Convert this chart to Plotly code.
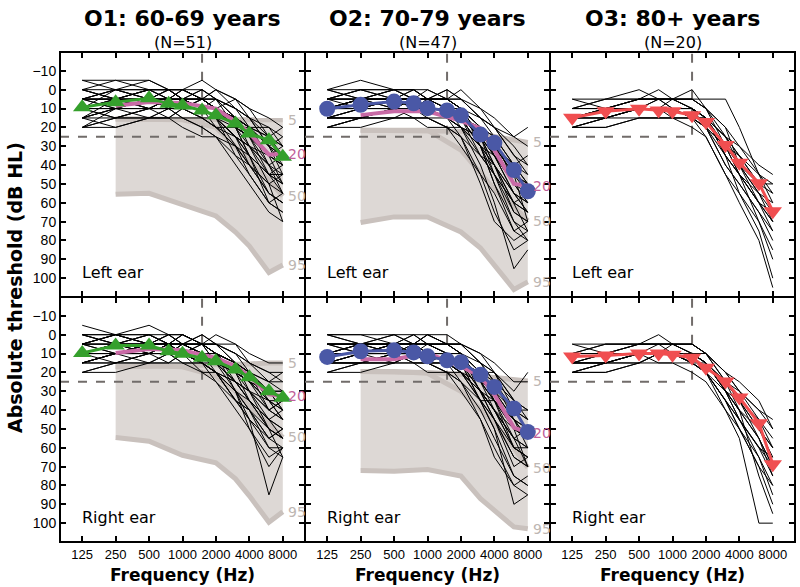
import numpy as np
import plotly.graph_objects as go
from plotly.subplots import make_subplots

FREQS = [125, 250, 500, 750, 1000, 1500, 2000, 3000, 4000, 6000, 8000]
NORM_FREQS = [250, 500, 1000, 2000, 3000, 4000, 6000, 8000]
X_TICKS = [125, 250, 500, 1000, 2000, 4000, 8000]
Y_TICKS = list(range(-10, 101, 10))

GROUPS = ["O1: 60-69 years", "O2: 70-79 years", "O3: 80+ years"]
GROUP_N = ["(N=51)", "(N=47)", "(N=20)"]
EARS = ["Left ear", "Right ear"]
PCT_LABELS = ["5", "20", "50", "95"]

REF_DB = 25      # horizontal dashed reference
REF_HZ = 1500    # vertical dashed reference

# individual audiograms, dB HL at FREQS
o1_left = [
    [5, 0, 5, 5, 5, 10, 10, 15, 20, 30, 35],
    [10, 5, 0, 5, 0, 5, 10, 20, 25, 35, 40],
    [-5, -5, 0, 0, 5, 5, 5, 10, 15, 25, 30],
    [15, 10, 10, 5, 10, 10, 15, 25, 35, 45, 50],
    [0, 5, 0, 5, 5, 0, 5, 15, 20, 30, 25],
    [10, 10, 5, 0, 5, 5, 10, 15, 30, 40, 45],
    [20, 15, 10, 15, 10, 15, 20, 30, 40, 55, 60],
    [5, 5, 10, 5, 10, 5, 10, 20, 25, 40, 35],
    [10, 0, 5, 10, 5, 10, 5, 10, 20, 20, 30],
    [15, 15, 10, 10, 15, 20, 25, 35, 45, 60, 65],
    [5, 10, 5, 0, 0, 5, 0, 5, 10, 15, 20],
    [0, 0, -5, 0, 5, 10, 15, 25, 30, 50, 55],
    [10, 5, 10, 10, 5, 0, 5, 10, 15, 30, 40],
    [15, 10, 5, 5, 10, 15, 20, 20, 25, 35, 30],
    [5, 5, 5, 10, 10, 10, 15, 30, 40, 50, 45],
    [10, 15, 15, 10, 10, 10, 10, 15, 25, 45, 55],
    [0, 5, 5, 0, 0, 0, 5, 15, 20, 25, 35],
    [20, 20, 15, 15, 20, 25, 25, 40, 50, 65, 70],
    [5, 0, 0, 5, 10, 5, 10, 5, 15, 20, 25],
    [10, 10, 10, 5, 0, 5, 10, 15, 20, 40, 50],
    [15, 5, 5, 5, 5, 10, 20, 30, 35, 45, 40],
    [5, 10, 10, 10, 5, 10, 10, 20, 35, 55, 60],
    [-5, 0, 5, 5, 5, 5, 0, 10, 15, 30, 45],
    [10, 15, 10, 10, 10, 15, 15, 25, 30, 35, 50],
    [0, -5, -5, 0, 0, 5, 10, 20, 30, 45, 50],
    [15, 20, 15, 15, 15, 20, 25, 30, 45, 60, 65],
    [5, 5, 0, 0, 5, 5, 10, 20, 25, 35, 40],
    [10, 10, 10, 10, 15, 15, 20, 25, 40, 50, 70],
    [20, 15, 15, 10, 10, 10, 15, 20, 20, 25, 30],
    [5, 5, 5, 5, 0, -5, 0, 5, 10, 25, 20],
    [10, 5, 0, 0, 5, 10, 15, 35, 40, 55, 60],
    [15, 10, 15, 15, 10, 10, 15, 25, 35, 45, 45],
    [0, 5, 10, 5, 5, 5, 5, 15, 20, 35, 40],
    [10, 10, 5, 5, 10, 5, 10, 15, 20, 30, 35],
    [5, 0, 0, 0, 0, 5, 5, 20, 35, 60, 55],
    [20, 10, 10, 10, 5, 10, 15, 25, 30, 40, 55],
]
o1_right = [
    [10, 5, 5, 5, 5, 10, 10, 15, 20, 30, 30],
    [5, 0, 0, 0, 5, 5, 5, 10, 15, 20, 25],
    [15, 10, 10, 10, 10, 15, 20, 30, 40, 55, 50],
    [0, 5, 5, 5, 0, 5, 10, 20, 25, 35, 40],
    [20, 15, 15, 10, 15, 15, 25, 35, 45, 60, 65],
    [10, 10, 5, 5, 5, 10, 10, 15, 30, 40, 35],
    [5, 0, -5, 0, 0, 5, 5, 10, 20, 25, 30],
    [10, 5, 10, 5, 10, 15, 15, 25, 35, 50, 55],
    [15, 10, 5, 10, 10, 10, 15, 20, 25, 35, 45],
    [0, 0, 5, 5, 5, 0, 5, 10, 15, 25, 20],
    [10, 10, 5, 10, 5, 10, 20, 30, 35, 45, 40],
    [5, 5, 10, 10, 15, 20, 25, 40, 50, 70, 60],
    [-5, 0, 0, 5, 5, 5, 10, 15, 20, 40, 35],
    [10, 15, 10, 5, 10, 10, 15, 20, 25, 30, 35],
    [15, 10, 10, 15, 10, 20, 20, 25, 30, 40, 45],
    [5, 5, 0, 5, 5, 5, 5, 15, 20, 30, 40],
    [20, 15, 10, 10, 5, 10, 10, 25, 35, 50, 55],
    [10, 10, 10, 10, 10, 15, 20, 30, 45, 85, 65],
    [5, 10, 5, 5, 0, 5, 10, 20, 20, 30, 30],
    [0, 5, 5, 10, 10, 5, 15, 25, 30, 50, 55],
    [10, 5, 5, 0, 5, 10, 10, 20, 35, 45, 50],
    [15, 10, 10, 5, 10, 10, 15, 30, 40, 60, 60],
    [5, 0, 5, 5, 5, 0, 5, 5, 10, 15, 15],
    [10, 10, 15, 10, 10, 15, 20, 35, 40, 55, 50],
    [0, 0, 5, 0, 0, 5, 5, 15, 25, 35, 45],
    [15, 15, 15, 15, 10, 15, 20, 35, 45, 55, 60],
    [5, 5, 5, 5, 10, 5, 10, 15, 20, 25, 25],
    [10, 5, 0, 5, 5, 10, 15, 25, 35, 45, 55],
    [20, 20, 15, 15, 15, 15, 20, 25, 30, 35, 40],
    [5, 0, 5, 0, 5, 5, 0, 5, 15, 20, 20],
    [10, 10, 5, 5, 0, 5, 10, 30, 50, 65, 60],
    [15, 15, 10, 10, 10, 10, 10, 20, 30, 45, 50],
    [0, 5, 0, 5, 5, 10, 10, 15, 20, 35, 35],
    [10, 5, 10, 10, 5, 5, 15, 20, 25, 30, 40],
    [5, 10, 10, 5, 10, 15, 20, 35, 40, 50, 65],
    [15, 10, 5, 5, 5, 10, 10, 15, 25, 40, 45],
]
o2_left = [
    [10, 5, 5, 5, 10, 10, 15, 25, 35, 50, 55],
    [5, 0, 5, 0, 5, 5, 10, 20, 30, 45, 50],
    [15, 15, 10, 10, 10, 15, 20, 35, 45, 65, 70],
    [0, -5, 0, 5, 5, 0, 5, 15, 20, 35, 45],
    [10, 10, 5, 5, 5, 10, 15, 30, 40, 60, 65],
    [20, 15, 10, 10, 15, 20, 25, 45, 55, 75, 80],
    [5, 5, 5, 10, 10, 10, 10, 20, 25, 40, 50],
    [10, 10, 10, 5, 10, 15, 20, 40, 60, 95, 85],
    [15, 10, 5, 5, 5, 5, 10, 20, 35, 55, 60],
    [5, 0, 0, 5, 0, 5, 5, 10, 15, 25, 30],
    [10, 5, 10, 10, 10, 10, 20, 30, 50, 70, 75],
    [0, 5, 5, 5, 5, 10, 15, 30, 35, 45, 55],
    [20, 20, 15, 15, 15, 20, 20, 25, 30, 45, 50],
    [10, 5, 0, 0, 5, 5, 10, 25, 40, 55, 65],
    [15, 10, 10, 10, 10, 10, 15, 25, 30, 40, 45],
    [5, 10, 10, 5, 5, 5, 0, 10, 20, 30, 40],
    [10, 10, 5, 5, 10, 15, 25, 50, 70, 80, 75],
    [0, 5, 0, 0, 5, 10, 10, 20, 25, 50, 60],
    [15, 15, 10, 10, 10, 10, 15, 30, 45, 60, 55],
    [5, 5, 5, 0, 0, 5, 10, 15, 20, 35, 40],
    [10, 5, 5, 5, 10, 10, 15, 20, 30, 45, 70],
    [20, 15, 15, 15, 20, 20, 25, 35, 40, 55, 60],
    [5, 5, 0, 5, 5, 5, 10, 25, 40, 65, 70],
    [15, 15, 15, 10, 10, 15, 15, 25, 35, 50, 60],
    [10, 5, 5, 5, 5, 0, 5, 15, 25, 40, 35],
    [20, 15, 15, 15, 15, 15, 20, 30, 40, 60, 75],
    [0, 0, 5, 5, 10, 10, 15, 35, 45, 70, 80],
    [10, 10, 10, 10, 5, 10, 10, 20, 30, 50, 50],
    [5, 0, 0, 0, 5, 5, 5, 15, 20, 25, 20],
    [15, 10, 10, 15, 15, 20, 30, 45, 65, 85, 80],
    [10, 10, 5, 5, 10, 10, 15, 25, 45, 60, 65],
    [5, 5, 10, 10, 5, 5, 10, 30, 50, 75, 70],
    [15, 15, 10, 10, 10, 15, 20, 25, 35, 55, 65],
    [10, 5, 5, 10, 10, 10, 10, 20, 30, 40, 50],
]
o2_right = [
    [10, 10, 5, 5, 5, 10, 10, 20, 30, 45, 50],
    [5, 5, 0, 5, 5, 5, 5, 15, 25, 40, 45],
    [15, 10, 10, 10, 15, 15, 20, 30, 45, 60, 65],
    [0, 5, 5, 5, 5, 10, 15, 25, 30, 45, 55],
    [10, 5, 10, 10, 10, 10, 15, 30, 40, 55, 60],
    [20, 15, 15, 10, 15, 20, 25, 40, 55, 75, 80],
    [5, 5, 5, 5, 0, 5, 10, 15, 20, 35, 40],
    [10, 10, 10, 15, 15, 15, 20, 35, 50, 90, 85],
    [15, 10, 10, 5, 10, 15, 20, 25, 35, 50, 55],
    [0, 0, 5, 0, 5, 5, 5, 10, 15, 25, 25],
    [10, 10, 5, 10, 10, 10, 15, 35, 45, 65, 70],
    [5, 5, 10, 10, 10, 15, 20, 30, 40, 50, 50],
    [20, 15, 15, 15, 20, 20, 25, 35, 35, 45, 60],
    [10, 5, 5, 5, 5, 10, 10, 25, 35, 60, 65],
    [15, 15, 10, 10, 15, 10, 15, 20, 30, 40, 45],
    [5, 5, 5, 5, 0, 0, 5, 15, 25, 35, 40],
    [10, 5, 10, 5, 10, 15, 25, 45, 65, 80, 75],
    [0, 0, 0, 5, 5, 5, 10, 20, 30, 50, 55],
    [15, 10, 10, 10, 10, 15, 20, 30, 40, 55, 50],
    [5, 10, 5, 5, 5, 5, 10, 20, 20, 35, 45],
    [10, 10, 10, 10, 10, 10, 15, 25, 35, 50, 70],
    [15, 15, 10, 15, 15, 20, 20, 30, 40, 60, 60],
    [5, 5, 5, 0, 5, 5, 10, 25, 40, 60, 65],
    [15, 10, 15, 10, 10, 15, 15, 25, 30, 50, 55],
    [10, 10, 5, 5, 0, 5, 5, 15, 20, 40, 40],
    [20, 20, 15, 15, 15, 15, 20, 35, 45, 65, 70],
    [0, 5, 5, 5, 10, 10, 15, 35, 50, 75, 80],
    [10, 10, 10, 10, 10, 10, 15, 20, 25, 45, 50],
    [5, 5, 0, 0, 0, 5, 5, 10, 20, 30, 20],
    [15, 15, 10, 10, 15, 20, 30, 45, 60, 80, 85],
    [10, 5, 5, 5, 10, 10, 15, 30, 40, 55, 60],
    [5, 10, 10, 10, 5, 10, 10, 30, 45, 70, 65],
    [15, 15, 15, 10, 10, 15, 20, 30, 35, 55, 70],
    [10, 10, 5, 10, 10, 10, 10, 20, 35, 45, 55],
]
o3_left = [
    [5, 5, 5, 5, 5, 5, 5, 5, 20, 45, 60],
    [15, 10, 10, 5, 5, 5, 10, 25, 35, 50, 65],
    [20, 15, 10, 10, 10, 15, 20, 35, 45, 60, 75],
    [10, 5, 0, 5, 5, 0, 10, 30, 40, 55, 70],
    [15, 15, 10, 10, 10, 10, 15, 25, 30, 40, 45],
    [10, 10, 5, 5, 5, 10, 15, 30, 45, 70, 90],
    [20, 20, 15, 15, 15, 15, 20, 40, 50, 65, 80],
    [15, 10, 10, 10, 10, 15, 25, 45, 55, 75, 100],
    [10, 5, 5, 0, 5, 5, 10, 20, 30, 45, 55],
    [15, 15, 10, 10, 10, 10, 15, 35, 45, 60, 65],
    [20, 20, 15, 15, 15, 20, 25, 45, 60, 80, 105],
    [10, 10, 5, 5, 10, 10, 15, 25, 35, 50, 50],
    [15, 10, 10, 10, 5, 5, 10, 20, 40, 60, 70],
    [20, 15, 15, 15, 15, 15, 15, 30, 40, 55, 60],
    [10, 10, 10, 5, 5, 10, 20, 40, 50, 65, 75],
    [15, 15, 10, 10, 10, 15, 20, 30, 35, 45, 50],
    [5, 10, 5, 5, 5, 10, 15, 35, 55, 70, 85],
    [20, 15, 10, 10, 15, 15, 20, 30, 45, 55, 65],
    [15, 10, 5, 5, 10, 10, 15, 25, 40, 50, 55],
    [10, 10, 10, 10, 10, 15, 15, 35, 45, 60, 70],
]
o3_right = [
    [10, 5, 5, 5, 5, 5, 10, 25, 35, 50, 60],
    [15, 15, 10, 10, 10, 10, 15, 30, 40, 55, 70],
    [20, 15, 15, 10, 10, 15, 20, 35, 50, 65, 80],
    [10, 10, 5, 5, 5, 5, 10, 20, 30, 40, 50],
    [15, 10, 10, 10, 10, 10, 15, 25, 35, 45, 55],
    [5, 5, 5, 0, 5, 10, 15, 30, 45, 60, 65],
    [20, 20, 15, 15, 15, 20, 25, 40, 55, 100, 100],
    [15, 15, 10, 10, 10, 10, 10, 25, 35, 55, 75],
    [10, 10, 10, 5, 5, 5, 10, 20, 30, 45, 60],
    [20, 15, 10, 10, 10, 15, 20, 35, 45, 65, 85],
    [15, 10, 5, 5, 5, 10, 15, 30, 35, 50, 65],
    [10, 10, 10, 10, 10, 15, 20, 40, 50, 70, 90],
    [15, 15, 15, 10, 10, 10, 15, 25, 30, 40, 45],
    [5, 10, 5, 5, 10, 10, 15, 30, 40, 55, 70],
    [20, 15, 10, 10, 10, 10, 20, 35, 50, 70, 80],
    [10, 5, 5, 5, 5, 5, 10, 20, 25, 35, 50],
    [15, 15, 10, 15, 15, 15, 20, 35, 45, 60, 75],
    [15, 10, 10, 10, 5, 10, 15, 30, 40, 50, 60],
    [10, 10, 10, 10, 10, 15, 15, 25, 40, 75, 95],
    [20, 20, 15, 10, 10, 15, 20, 30, 45, 60, 70],
]

# group means at FREQS
mean_o1_left = [9.3, 6.6, 4.5, 7.5, 8.4, 11, 13.6, 18, 23.3, 26.8, 35.6]
mean_o1_right = [9.7, 5.8, 5.8, 8.8, 10.1, 12.3, 14.1, 18.5, 22.6, 30, 33.5]
mean_o2_left = [10.1, 8.0, 6.3, 7.2, 9.8, 11, 13.6, 23.8, 28.2, 42.6, 53.9]
mean_o2_right = [11.8, 8.8, 8.3, 9.4, 11.5, 13.6, 14.6, 21.2, 27.7, 39.1, 51.6]
mean_o3_left = [14.9, 11.4, 10.1, 11, 11.4, 13.6, 17.2, 29.4, 38.7, 49.6, 64.5]
mean_o3_right = [11.6, 11.1, 10, 10, 10.6, 12.2, 17.5, 24.8, 33.3, 47, 68.7]

# age-norm percentile curves at NORM_FREQS (O1, O2 only)
p5_o1_left = [15.5, 15.5, 15.5, 15.5, 15.5, 15.5, 16, 16]
p20_o1_left = [8.5, 6.5, 7, 10, 17, 23, 34.5, 34]
p50_o1_left = [15.5, 15.5, 16, 20, 30, 38, 48, 56.5]
p95_o1_left = [55.5, 55, 61, 67, 75.5, 83, 97, 93]

p5_o1_right = [17, 17, 16.5, 16, 16, 15.5, 15, 15]
p20_o1_right = [9.7, 7.6, 8.3, 12.3, 16.8, 22, 31.7, 32.6]
p50_o1_right = [17, 16.5, 17, 22, 30, 38, 47, 54.5]
p95_o1_right = [54.5, 56.5, 64, 68, 76.5, 85.5, 99.5, 94]

p5_o2_left = [21.5, 21.5, 21.5, 22, 23.5, 25, 27, 28]
p20_o2_left = [13.5, 11.5, 11.5, 16.5, 20.5, 32, 50, 51]
p50_o2_left = [21.5, 21.5, 21.5, 32, 44, 53, 62, 69.5]
p95_o2_left = [70.5, 67.5, 67.5, 75.5, 84, 93, 106, 102]

p5_o2_right = [19.5, 19.5, 20, 21, 22, 23, 24, 24.5]
p20_o2_right = [13, 13, 9.7, 16.8, 22, 31.7, 49.3, 52]
p50_o2_right = [19.5, 19.5, 20.5, 30, 39.5, 47, 60, 70.5]
p95_o2_right = [72, 72.5, 71.5, 75, 87, 93.5, 102, 103]

STYLE = [
    dict(color="#35a02c", symbol="triangle-up", size=16),
    dict(color="#4a58a6", symbol="circle", size=16),
    dict(color="#f04e50", symbol="triangle-down", size=16),
]
FILL = "#ddd8d5"
NORM_LINE = "#c9c1bd"
PINK = "#c96aa6"
DASH = "#716c6a"
FONT = "DejaVu Sans"

panels = {
    (1, 1): (o1_left, mean_o1_left, [p5_o1_left, p20_o1_left, p50_o1_left, p95_o1_left]),
    (1, 2): (o2_left, mean_o2_left, [p5_o2_left, p20_o2_left, p50_o2_left, p95_o2_left]),
    (1, 3): (o3_left, mean_o3_left, None),
    (2, 1): (o1_right, mean_o1_right, [p5_o1_right, p20_o1_right, p50_o1_right, p95_o1_right]),
    (2, 2): (o2_right, mean_o2_right, [p5_o2_right, p20_o2_right, p50_o2_right, p95_o2_right]),
    (2, 3): (o3_right, mean_o3_right, None),
}

xr = [np.log10(125) - 0.2, np.log10(8000) + 0.2]
x_left = 10 ** xr[0]
yr = [110, -20]


def ax(letter, i):
    return letter if i == 1 else f"{letter}{i}"


fig = make_subplots(rows=2, cols=3, horizontal_spacing=0, vertical_spacing=0)

for (r, c), (subjects, mean, norms) in panels.items():
    idx = (r - 1) * 3 + c
    st = STYLE[c - 1]
    if norms is not None:
        p5, p20, p50, p95 = norms
        fig.add_trace(go.Scatter(x=NORM_FREQS + NORM_FREQS[::-1], y=p5 + p95[::-1],
                                 fill="toself", fillcolor=FILL, mode="lines",
                                 line=dict(width=0), hoverinfo="skip"), row=r, col=c)
        for curve in (p5, p50, p95):
            fig.add_trace(go.Scatter(x=NORM_FREQS, y=curve, mode="lines",
                                     line=dict(color=NORM_LINE, width=5)), row=r, col=c)
    # dashed reference lines
    fig.add_trace(go.Scatter(x=[x_left, REF_HZ, REF_HZ], y=[REF_DB, REF_DB, yr[1]], mode="lines",
                             line=dict(color=DASH, width=2, dash="dash")), row=r, col=c)
    for s in subjects:
        fig.add_trace(go.Scatter(x=FREQS, y=s, mode="lines",
                                 line=dict(color="black", width=1)), row=r, col=c)
    if norms is not None:
        fig.add_trace(go.Scatter(x=NORM_FREQS, y=p20, mode="lines",
                                 line=dict(color=PINK, width=4)), row=r, col=c)
    fig.add_trace(go.Scatter(x=FREQS, y=mean, mode="lines+markers",
                             line=dict(color=st["color"], width=3),
                             marker=dict(color=st["color"], symbol=st["symbol"], size=st["size"])),
                  row=r, col=c)
    if norms is not None:
        for lab, curve in zip(PCT_LABELS, norms):
            fig.add_annotation(x=np.log10(8000), y=curve[-1], xref=ax("x", idx), yref=ax("y", idx),
                               text=lab, showarrow=False, xanchor="left", xshift=3,
                               font=dict(family=FONT, size=14,
                                         color="#c0609a" if lab == "20" else "#bdb6b2"))
    fig.add_annotation(x=0.08, y=97, xref=ax("x", idx) + " domain", yref=ax("y", idx),
                       text=EARS[r - 1], showarrow=False, xanchor="left",
                       font=dict(family=FONT, size=16, color="black"))

    fig.update_xaxes(type="log", range=xr, tickvals=X_TICKS, ticktext=[str(v) for v in X_TICKS],
                     showticklabels=(r == 2), ticks="inside", ticklen=6, tickwidth=1.5,
                     tickcolor="black", showline=True, linecolor="black", linewidth=1,
                     mirror="ticks", showgrid=False, zeroline=False,
                     tickfont=dict(family="Liberation Sans", size=13, color="black"),
                     row=r, col=c)
    fig.update_yaxes(range=yr, tickvals=Y_TICKS, showticklabels=(c == 1), ticks="inside",
                     ticklen=6, tickwidth=1.5, tickcolor="black", showline=True,
                     linecolor="black", linewidth=1, mirror="ticks", showgrid=False,
                     zeroline=False, tickfont=dict(family="Liberation Sans", size=14, color="black"),
                     row=r, col=c)

for c in range(1, 4):
    fig.add_annotation(x=0.5, y=1, xref=ax("x", c) + " domain", yref="paper",
                       text="<b>" + GROUPS[c - 1] + "</b>",
                       showarrow=False, yanchor="middle", yshift=34,
                       font=dict(family=FONT, size=22, color="black"))
    fig.add_annotation(x=0.5, y=1, xref=ax("x", c) + " domain", yref="paper", text=GROUP_N[c - 1],
                       showarrow=False, yanchor="middle", yshift=10,
                       font=dict(family=FONT, size=16, color="black"))
    fig.add_annotation(x=0.5, y=0, xref=ax("x", c + 3) + " domain", yref="paper",
                       text="<b>Frequency (Hz)</b>", showarrow=False, yanchor="middle", yshift=-33,
                       font=dict(family=FONT, size=17, color="black"))

fig.add_annotation(x=0, y=0.5, xref="paper", yref="paper", text="<b>Absolute threshold (dB HL)</b>",
                   showarrow=False, textangle=-90, xanchor="center", yanchor="middle",
                   xshift=-45, yshift=9,
                   font=dict(family=FONT, size=19, color="black"))

# outer frame
fig.add_shape(type="rect", xref="paper", yref="paper", x0=0, y0=0, x1=1, y1=1,
              line=dict(color="black", width=2), layer="above")

fig.update_layout(width=800, height=587, showlegend=False,
                  margin=dict(l=60, r=5, t=52, b=45),
                  plot_bgcolor="white", paper_bgcolor="white")

fig.write_html("out.html", config={"displayModeBar": False},
               post_script="document.body.style.margin='0';")
